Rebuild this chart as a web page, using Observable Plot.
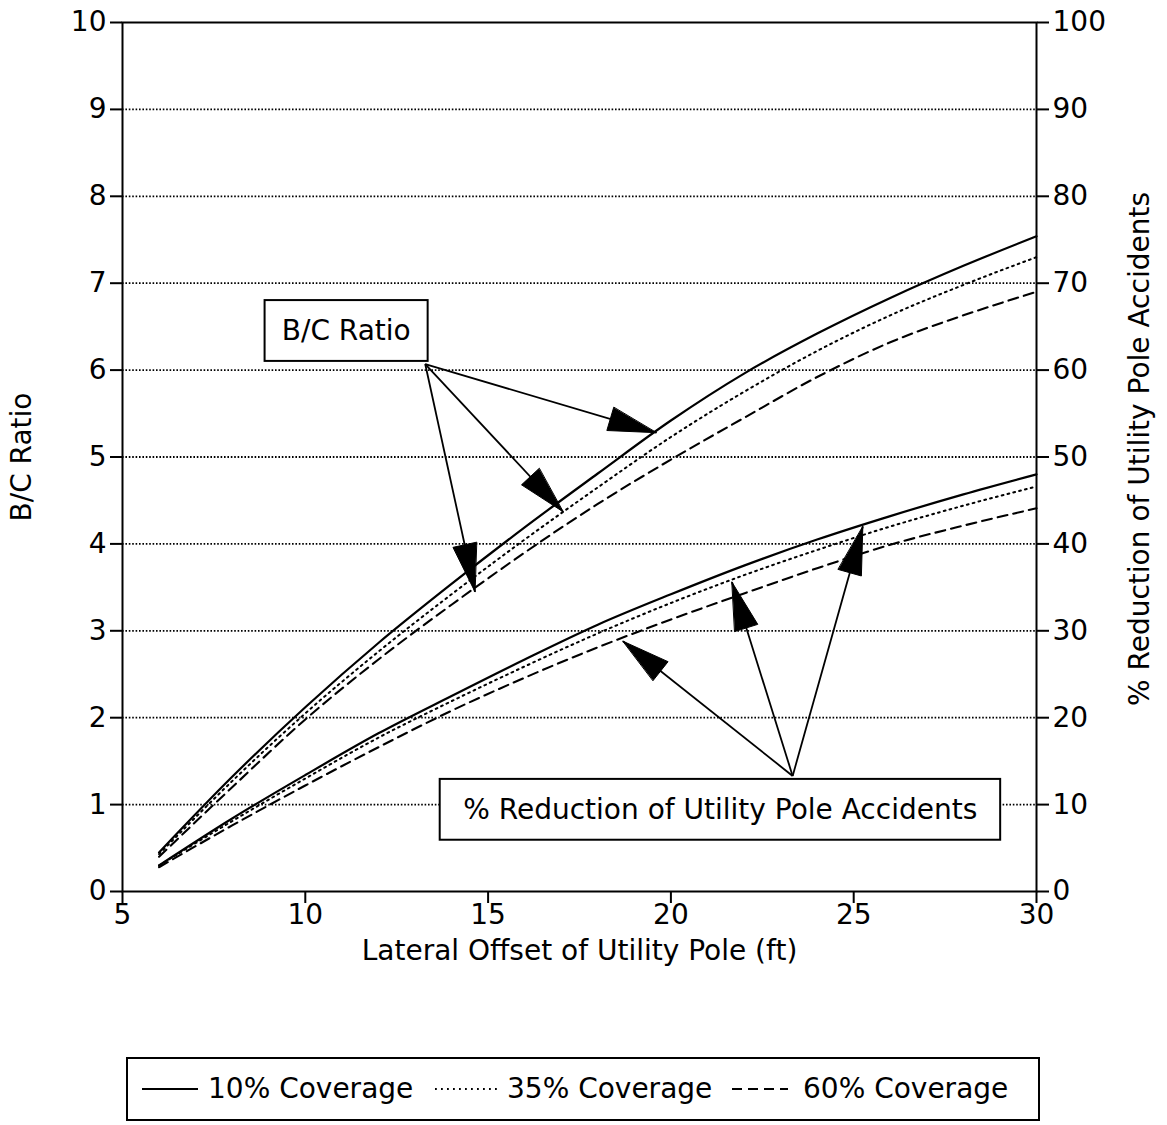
<!DOCTYPE html>
<html><head><meta charset="utf-8">
<script src="https://cdn.jsdelivr.net/npm/d3@7"></script>
<script src="https://cdn.jsdelivr.net/npm/@observablehq/plot@0.6"></script>
<style>
body{margin:0;background:#fff;font-family:"DejaVu Sans",sans-serif;color:#000;}
#wrap{position:relative;width:1167px;height:1125px;overflow:hidden;}
#legend{position:absolute;left:126px;top:1057px;width:910px;height:60px;border:2px solid #000;}
.item{position:absolute;top:50%;transform:translateY(-50%);font-size:28px;white-space:nowrap;line-height:1;}
.samp{position:absolute;top:50%;transform:translateY(-50%);}
</style></head><body><div id="wrap"><div id="chart"></div><div id="legend"></div></div>
<script>
// ---- data ----
const offsets = [6, 8, 10, 12, 14, 16, 18, 20, 22, 24, 26, 28, 30];
const coverages = ["10% Coverage", "35% Coverage", "60% Coverage"];
// B/C ratio (left axis)
const bc10 = [0.45, 1.32, 2.12, 2.86, 3.54, 4.19, 4.81, 5.42, 5.96, 6.42, 6.83, 7.2, 7.54];
const bc35 = [0.43, 1.27, 2.05, 2.76, 3.42, 4.05, 4.65, 5.23, 5.75, 6.22, 6.63, 6.98, 7.3];
const bc60 = [0.4, 1.2, 1.98, 2.67, 3.3, 3.9, 4.46, 4.97, 5.45, 5.92, 6.32, 6.63, 6.9];
// % reduction of utility pole accidents (right axis)
const red10 = [3, 8.4, 13.4, 18.2, 22.5, 26.7, 30.7, 34.2, 37.5, 40.5, 43.2, 45.7, 48];
const red35 = [3, 8.1, 13, 17.7, 21.9, 25.9, 29.7, 33.2, 36.4, 39.3, 42, 44.4, 46.6];
const red60 = [2.8, 7.6, 12.2, 16.6, 20.8, 24.6, 28.1, 31.3, 34.3, 37.2, 39.9, 42.1, 44.1];
const xTicks = [5, 10, 15, 20, 25, 30];
const yTicks = [0, 1, 2, 3, 4, 5, 6, 7, 8, 9, 10];
const gridTicks = [1, 2, 3, 4, 5, 6, 7, 8, 9];
// annotations (data units)
const bcLabel = [{text: "B/C Ratio", x: 11.12, y: 6.45, x1: 8.9, x2: 13.36, y1: 6.1, y2: 6.8}];
const redLabel = [{text: "% Reduction of Utility Pole Accidents", x: 21.35, y: 0.935, x1: 13.69, x2: 29.02, y1: 0.59, y2: 1.29}];
const bcArrowFrom = [13.28, 6.07];
const bcArrowTips = [[19.6, 5.28], [17.05, 4.37], [14.64, 3.45]];
const redArrowFrom = [23.33, 1.33];
const redArrowTips = [[18.69, 2.88], [21.67, 3.56], [25.25, 4.2]];

// ---- layout ----
const W = 1167, H = 1000, ML = 122, MR = 131, MT = 22, MB = 109;
const styles = {
  "10% Coverage": {strokeWidth: 2.2, strokeDasharray: null},
  "35% Coverage": {strokeWidth: 2, strokeDasharray: "1.8 4.2"},
  "60% Coverage": {strokeWidth: 2.1, strokeDasharray: "10 6"}
};

const rows = [];
[[bc10, red10], [bc35, red35], [bc60, red60]].forEach(([bc, red], i) => {
  offsets.forEach((x, j) => {
    rows.push({x, v: bc[j], metric: "bc", coverage: coverages[i]});
    rows.push({x, v: red[j], metric: "red", coverage: coverages[i]});
  });
});

const px = d3.scaleLinear([5, 30], [ML, W - MR]);
const py = d3.scaleLinear([0, 10], [H - MB, MT]);
const arrows = [];
const heads = [];
const HL = 48, HW = 12;
function addArrows(from, tips, key) {
  tips.forEach((t, i) => {
    const id = key + i;
    arrows.push({id, x1: from[0], y1: from[1], x2: t[0], y2: t[1]});
    const ox = px(from[0]), oy = py(from[1]), tx = px(t[0]), ty = py(t[1]);
    const len = Math.hypot(tx - ox, ty - oy);
    const ux = (tx - ox) / len, uy = (ty - oy) / len;
    const bx = tx - HL * ux, by = ty - HL * uy;
    const nx = -uy, ny = ux;
    heads.push({id, x: t[0], y: t[1]});
    heads.push({id, x: px.invert(bx + HW * nx), y: py.invert(by + HW * ny)});
    heads.push({id, x: px.invert(bx - HW * nx), y: py.invert(by - HW * ny)});
  });
}
addArrows(bcArrowFrom, bcArrowTips, "bc");
addArrows(redArrowFrom, redArrowTips, "red");

const yval = d => d.metric === "red" ? d.v / 10 : d.v;

const chart = Plot.plot({
  width: W, height: H,
  marginLeft: ML, marginRight: MR, marginTop: MT, marginBottom: MB,
  x: {domain: [5, 30]},
  y: {domain: [0, 10]},
  style: {fontFamily: "DejaVu Sans, sans-serif", fontSize: "28px", background: "#fff", color: "#000", overflow: "visible"},
  marks: [
    Plot.ruleY(gridTicks, {stroke: "#000", strokeWidth: 1.8, strokeDasharray: "1.6 1.8"}),
    ...coverages.map(c => Plot.line(rows.filter(d => d.coverage === c), {
      x: "x", y: yval, z: "metric", stroke: "#000", curve: "monotone-x",
      strokeWidth: styles[c].strokeWidth, strokeDasharray: styles[c].strokeDasharray
    })),
    Plot.rect(bcLabel, {x1: "x1", x2: "x2", y1: "y1", y2: "y2", fill: "#fff", stroke: "#000", strokeWidth: 2}),
    Plot.text(bcLabel, {x: "x", y: "y", text: "text", fontSize: 28, fill: "#000"}),
    Plot.rect(redLabel, {x1: "x1", x2: "x2", y1: "y1", y2: "y2", fill: "#fff", stroke: "#000", strokeWidth: 2}),
    Plot.text(redLabel, {x: "x", y: "y", text: "text", fontSize: 28, fill: "#000"}),
    Plot.link(arrows, {x1: "x1", y1: "y1", x2: "x2", y2: "y2", stroke: "#000", strokeWidth: 1.8}),
    Plot.line(heads, {x: "x", y: "y", z: "id", fill: "#000", stroke: "#000", strokeWidth: 1, curve: "linear-closed"}),
    Plot.axisX({ticks: xTicks, tickSize: 12, tickPadding: 1, label: null, strokeWidth: 2, fontSize: 28}),
    Plot.axisY({anchor: "left", ticks: yTicks, tickSize: 12, tickPadding: 4, label: null, strokeWidth: 2, fontSize: 28}),
    Plot.axisY({anchor: "right", ticks: yTicks, tickFormat: d => String(d * 10), tickSize: 12, tickPadding: 4, label: null, strokeWidth: 2, fontSize: 28}),
    Plot.text(["Lateral Offset of Utility Pole (ft)"], {text: d => d, frameAnchor: "bottom", lineAnchor: "middle", textAnchor: "middle", dy: 60, fontSize: 28, fill: "#000"}),
    Plot.text(["B/C Ratio"], {text: d => d, frameAnchor: "left", lineAnchor: "middle", textAnchor: "middle", dx: -100, rotate: -90, fontSize: 28, fill: "#000"}),
    Plot.text(["% Reduction of Utility Pole Accidents"], {text: d => d, frameAnchor: "right", lineAnchor: "middle", textAnchor: "middle", dx: 104, dy: -8, rotate: -90, fontSize: 28, fill: "#000"}),
    Plot.frame({stroke: "#000", strokeWidth: 2})
  ]
});
document.getElementById("chart").append(chart);

// ---- legend ----
const legend = document.getElementById("legend");
const legendPos = [{s: 14, w: 56, t: 80}, {s: 307, w: 64, t: 379}, {s: 604, w: 56, t: 675}];
coverages.forEach((c, i) => {
  const p = legendPos[i];
  const svg = d3.create("svg").attr("class", "samp").attr("width", p.w).attr("height", 6).style("left", p.s + "px");
  svg.append("line").attr("x1", 0).attr("x2", p.w).attr("y1", 3).attr("y2", 3)
    .attr("stroke", "#000").attr("stroke-width", styles[c].strokeWidth)
    .attr("stroke-dasharray", styles[c].strokeDasharray);
  legend.append(svg.node());
  const span = document.createElement("span");
  span.className = "item";
  span.style.left = p.t + "px";
  span.textContent = c;
  legend.append(span);
});
</script></body></html>
